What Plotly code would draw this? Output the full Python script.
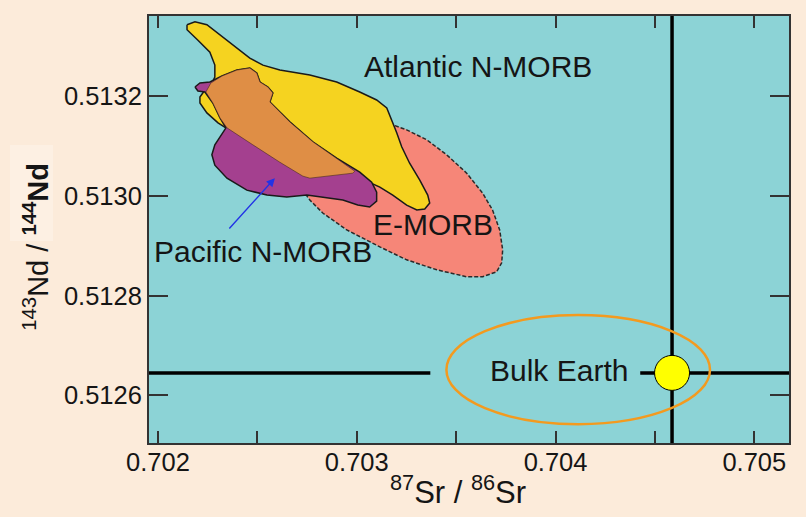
import plotly.graph_objects as go

# ---------------- data ----------------
x_range = [0.7019548, 0.7051744]
y_range = [0.5125042, 0.5133616]

x_tickvals = [0.702, 0.703, 0.704, 0.705]
x_ticktext = ["0.702", "0.703", "0.704", "0.705"]
x_minor_step = 0.0005
y_tickvals = [0.5126, 0.5128, 0.5130, 0.5132]
y_ticktext = ["0.5126", "0.5128", "0.5130", "0.5132"]

# E-MORB field
emorb_sr = [0.702729, 0.702814, 0.702965, 0.703090, 0.703156, 0.703181, 0.703251, 0.703352,
            0.703452, 0.703553, 0.703633, 0.703683, 0.703719, 0.703734, 0.703729, 0.703704,
            0.703633, 0.703553, 0.703402, 0.703251, 0.703116, 0.702950, 0.702829, 0.702764]
emorb_nd = [0.513012, 0.513062, 0.513113, 0.513143, 0.513149, 0.513143, 0.513133, 0.513113,
            0.513083, 0.513046, 0.513006, 0.512972, 0.512932, 0.512892, 0.512866, 0.512848,
            0.512838, 0.512838, 0.512852, 0.512872, 0.512898, 0.512932, 0.512966, 0.512992]

# Atlantic N-MORB field
atl_sr = [0.702146, 0.702186, 0.702246, 0.702312, 0.702397, 0.702462, 0.702528, 0.702613,
          0.702764, 0.702899, 0.703015, 0.703100, 0.703151, 0.703176, 0.703201, 0.703226,
          0.703266, 0.703317, 0.703357, 0.703367, 0.703342, 0.703302, 0.703251, 0.703181,
          0.703116, 0.703050, 0.702980, 0.702899, 0.702764, 0.702729, 0.702613, 0.702477,
          0.702347, 0.702302, 0.702246, 0.702211, 0.702211, 0.702236, 0.702271, 0.702286,
          0.702286, 0.702261, 0.702201, 0.702146]
atl_nd = [0.513344, 0.513350, 0.513344, 0.513324, 0.513297, 0.513277, 0.513263, 0.513253,
          0.513243, 0.513229, 0.513209, 0.513193, 0.513177, 0.513153, 0.513127, 0.513099,
          0.513066, 0.513032, 0.513002, 0.512986, 0.512974, 0.512972, 0.512982, 0.513002,
          0.513018, 0.513030, 0.513046, 0.513042, 0.513036, 0.513040, 0.513068, 0.513103,
          0.513137, 0.513147, 0.513167, 0.513187, 0.513199, 0.513213, 0.513227, 0.513239,
          0.513263, 0.513289, 0.513313, 0.513334]

# Pacific N-MORB field
pac_sr = [0.702186, 0.702211, 0.702261, 0.702322, 0.702397, 0.702462, 0.702497, 0.702513,
          0.702553, 0.702578, 0.702563, 0.702663, 0.702779, 0.702899, 0.703015, 0.703075,
          0.703100, 0.703100, 0.703065, 0.703005, 0.702930, 0.702814, 0.702749, 0.702648,
          0.702548, 0.702447, 0.702347, 0.702286, 0.702271, 0.702286, 0.702327, 0.702342,
          0.702312, 0.702276, 0.702236, 0.702201]
pac_nd = [0.513219, 0.513227, 0.513229, 0.513241, 0.513253, 0.513257, 0.513247, 0.513229,
          0.513219, 0.513207, 0.513189, 0.513149, 0.513109, 0.513076, 0.513048, 0.513028,
          0.513008, 0.512990, 0.512978, 0.512982, 0.512992, 0.512998, 0.513002, 0.512998,
          0.513002, 0.513012, 0.513036, 0.513062, 0.513083, 0.513103, 0.513129, 0.513137,
          0.513157, 0.513187, 0.513209, 0.513211]

# overlap of Atlantic and Pacific fields
ovl_sr = [0.702266, 0.702322, 0.702397, 0.702462, 0.702497, 0.702513, 0.702553, 0.702578,
          0.702563, 0.702663, 0.702779, 0.702899, 0.702990, 0.702980, 0.702899, 0.702764,
          0.702729, 0.702613, 0.702477, 0.702347, 0.702312, 0.702276, 0.702241]
ovl_nd = [0.513227, 0.513241, 0.513253, 0.513257, 0.513247, 0.513229, 0.513219, 0.513207,
          0.513189, 0.513149, 0.513109, 0.513076, 0.513050, 0.513046, 0.513042, 0.513036,
          0.513040, 0.513068, 0.513103, 0.513137, 0.513157, 0.513187, 0.513209]

# Bulk Earth
bulk_sr = 0.704586
bulk_nd = 0.512645
hline_left_end = 0.703370
hline_right_start = 0.704426
ellipse_sr = [0.703451, 0.704777]
ellipse_nd = [0.512542, 0.512761]

# arrow (tail -> head)
arrow_tail = [0.702352, 0.512932]
arrow_head = [0.702588, 0.513036]

labels = ["Atlantic N-MORB", "E-MORB", "Pacific N-MORB", "Bulk Earth"]
label_sr = [0.703611, 0.703382, 0.702529, 0.704015]
label_nd = [0.513261, 0.512942, 0.512888, 0.512649]

# ---------------- styles ----------------
FONT = "Liberation Sans, Arial, Helvetica, sans-serif"
INK = "#151515"
AX = "#333333"

fig = go.Figure()

def field(xs, ys, fill, line_color, width, dash="solid"):
    fig.add_trace(go.Scatter(
        x=xs + xs[:1], y=ys + ys[:1], mode="lines", fill="toself",
        fillcolor=fill, line=dict(color=line_color, width=width, dash=dash),
        hoverinfo="skip", showlegend=False))

field(emorb_sr, emorb_nd, "#F68678", "#2a2a2a", 1.5, "4px,2px")
field(atl_sr, atl_nd, "#F5D320", "#1a1a1a", 1.5)
field(pac_sr, pac_nd, "#A4408F", "#1a1a1a", 1.5)
field(ovl_sr, ovl_nd, "#DF8E45", "rgba(60,35,25,0.55)", 1.0)

# Bulk Earth reference lines
fig.add_trace(go.Scatter(x=[x_range[0], hline_left_end], y=[bulk_nd, bulk_nd], mode="lines",
                         line=dict(color="black", width=3.5), hoverinfo="skip", showlegend=False))
fig.add_trace(go.Scatter(x=[hline_right_start, x_range[1]], y=[bulk_nd, bulk_nd], mode="lines",
                         line=dict(color="black", width=3.5), hoverinfo="skip", showlegend=False))
fig.add_trace(go.Scatter(x=[bulk_sr, bulk_sr], y=y_range, mode="lines",
                         line=dict(color="black", width=3.5), hoverinfo="skip", showlegend=False))

fig.add_shape(type="circle", xref="x", yref="y",
              x0=ellipse_sr[0], x1=ellipse_sr[1], y0=ellipse_nd[0], y1=ellipse_nd[1],
              line=dict(color="#F39A1F", width=2.5), layer="above")

fig.add_trace(go.Scatter(x=[bulk_sr], y=[bulk_nd], mode="markers",
                         marker=dict(size=35, color="#FFFF00", line=dict(color="black", width=1)),
                         hoverinfo="skip", showlegend=False))

for t, xs, ys in zip(labels, label_sr, label_nd):
    fig.add_annotation(x=xs, y=ys, xref="x", yref="y", text=t, showarrow=False,
                       font=dict(family=FONT, size=30, color=INK),
                       xanchor="center", yanchor="middle")

fig.add_annotation(x=arrow_head[0], y=arrow_head[1], ax=arrow_tail[0], ay=arrow_tail[1],
                   xref="x", yref="y", axref="x", ayref="y", text="", showarrow=True,
                   arrowhead=2, arrowsize=1.2, arrowwidth=1.4, arrowcolor="#2233E6")

# axis titles
fig.add_annotation(x=0.4833, y=-0.110, xref="paper", yref="paper",
                   text="<sup>87</sup>Sr / <sup>86</sup>Sr", showarrow=False,
                   font=dict(family=FONT, size=31, color=INK), xanchor="center", yanchor="middle")
fig.add_shape(type="rect", xref="paper", yref="paper", x0=-0.2172, x1=-0.15, y0=0.473, y1=0.698,
              fillcolor="#FDF0E3", line=dict(width=0), layer="below")
fig.add_annotation(x=-0.1766, y=0.4597, xref="paper", yref="paper",
                   text="<sup>143</sup>Nd / <b><sup>144</sup>Nd</b>", showarrow=False, textangle=-90,
                   font=dict(family=FONT, size=29, color=INK), xanchor="center", yanchor="middle")

axis_common = dict(showgrid=False, zeroline=False, showline=True, linecolor=AX, linewidth=2,
                   mirror="ticks", ticks="inside", tickcolor=AX, tickwidth=2,
                   tickfont=dict(family=FONT, size=25.5, color=INK))

fig.update_xaxes(range=x_range, tickvals=x_tickvals, ticktext=x_ticktext, ticklen=12,
                 ticklabelstandoff=-5,
                 minor=dict(dtick=x_minor_step, tick0=x_tickvals[0], ticks="inside",
                            ticklen=12, tickwidth=2, tickcolor=AX, showgrid=False),
                 **axis_common)
fig.update_yaxes(range=y_range, tickvals=y_tickvals, ticktext=y_ticktext, ticklen=19, **axis_common)

fig.update_layout(width=806, height=517, margin=dict(l=149, r=17, t=16, b=74),
                  paper_bgcolor="#FCEBDA", plot_bgcolor="#8CD3D6",
                  font=dict(family=FONT, color=INK))

fig.write_html("out.html")
